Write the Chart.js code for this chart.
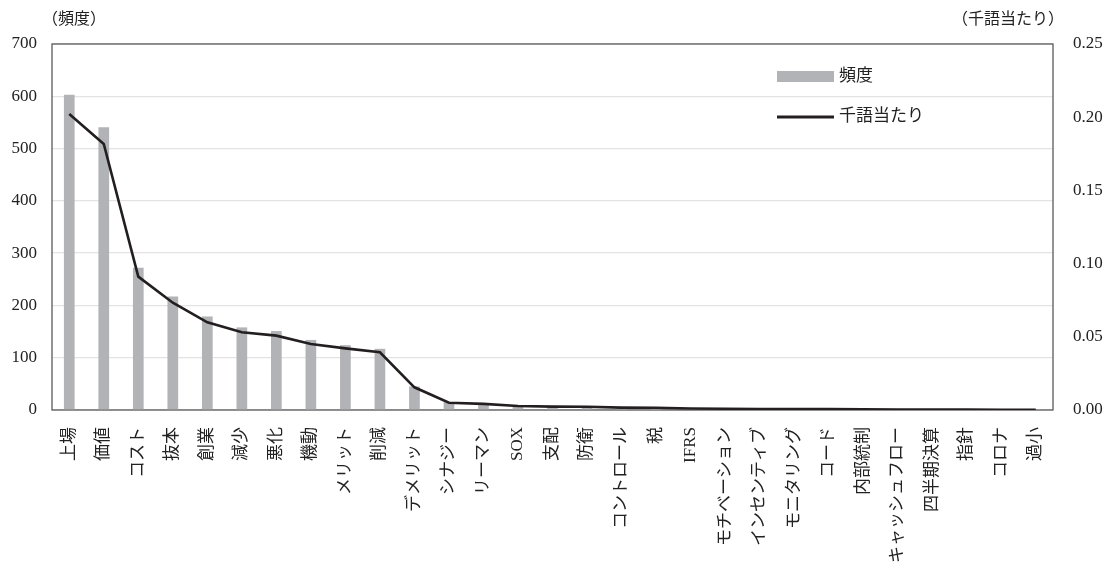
<!DOCTYPE html>
<html>
<head>
<meta charset="utf-8">
<script src="https://cdn.jsdelivr.net/npm/chart.js@4.4.1/dist/chart.umd.min.js"></script>
<style>
  html, body { margin: 0; padding: 0; background: #ffffff; }
  #wrap { width: 1108px; height: 574px; }
</style>
</head>
<body>
<div id="wrap"><canvas id="chart" width="1108" height="574"></canvas></div>
<script>
// Keywords, ordered by frequency
const categories = [
  '上場', '価値', 'コスト', '抜本', '創業', '減少', '悪化', '機動', 'メリット', '削減',
  'デメリット', 'シナジー', 'リーマン', 'SOX', '支配', '防衛', 'コントロール', '税', 'IFRS',
  'モチベーション', 'インセンティブ', 'モニタリング', 'コード', '内部統制', 'キャッシュフロー',
  '四半期決算', '指針', 'コロナ', '過小'
];

// Raw counts (left axis)
const frequency = [
  603, 541, 272, 217, 179, 158, 151, 134, 124, 117,
  45, 15, 12, 8, 7, 7, 5, 5, 3,
  3, 2, 2, 2, 1, 1,
  1, 1, 1, 1
];

// Occurrences per thousand words (right axis)
const perThousandWords = [
  0.2022, 0.1817, 0.0911, 0.0733, 0.0599, 0.0531, 0.0508, 0.0451, 0.0421, 0.0394,
  0.0155, 0.0050, 0.0042, 0.0027, 0.0023, 0.0022, 0.0016, 0.0015, 0.0010,
  0.0009, 0.0007, 0.0006, 0.0006, 0.0004, 0.0003,
  0.0003, 0.0003, 0.0002, 0.0002
];

// Axis ranges and steps
const leftAxisMax = 700;
const leftAxisStep = 100;
const rightAxisMax = 0.25;
const rightAxisStep = 0.05;

const leftTitle = '（頻度）';
const rightTitle = '（千語当たり）';
const seriesNames = ['頻度', '千語当たり'];

const FONT = '"Liberation Serif", "Noto Sans CJK JP", serif';
const BAR_COLOR = '#b2b3b7';
const LINE_COLOR = '#231f20';
const FRAME_COLOR = '#5a5a5a';
const GRID_COLOR = '#e3e3e3';

// Frame around the plot area, axis titles and an in-plot legend
const decor = {
  id: 'decor',
  beforeDatasetsDraw(chart) {
    const { ctx, chartArea: a } = chart;
    ctx.save();
    ctx.strokeStyle = FRAME_COLOR;
    ctx.lineWidth = 1.3;
    ctx.strokeRect(a.left, a.top, a.right - a.left, a.bottom - a.top);
    ctx.restore();
  },
  afterDraw(chart) {
    const { ctx, chartArea: a } = chart;
    ctx.save();
    ctx.fillStyle = '#222';
    ctx.font = '16px ' + FONT;
    ctx.textBaseline = 'middle';
    ctx.textAlign = 'left';
    ctx.fillText(leftTitle, a.left - 10, 20);
    ctx.textAlign = 'right';
    ctx.fillText(rightTitle, a.right + 11, 20);

    // legend: bar series first, then the line series
    const ds = chart.data.datasets;
    const barSet = ds.find(d => d.type === 'bar');
    const lineSet = ds.find(d => d.type === 'line');
    const lx = a.left + 725;
    ctx.textAlign = 'left';
    ctx.font = '17px ' + FONT;
    ctx.fillStyle = barSet.backgroundColor;
    ctx.fillRect(lx, 71, 57, 11);
    ctx.fillStyle = '#222';
    ctx.fillText(barSet.label, lx + 62, 77);
    ctx.strokeStyle = lineSet.borderColor;
    ctx.lineWidth = 3;
    ctx.beginPath();
    ctx.moveTo(lx, 117);
    ctx.lineTo(lx + 57, 117);
    ctx.stroke();
    ctx.fillText(lineSet.label, lx + 62, 117);
    ctx.restore();
  }
};

new Chart(document.getElementById('chart'), {
  data: {
    labels: categories,
    datasets: [
      {
        type: 'line',
        label: seriesNames[1],
        data: perThousandWords,
        yAxisID: 'yRight',
        borderColor: LINE_COLOR,
        backgroundColor: LINE_COLOR,
        borderWidth: 2.6,
        pointRadius: 0,
        tension: 0,
        order: 0
      },
      {
        type: 'bar',
        label: seriesNames[0],
        data: frequency,
        yAxisID: 'yLeft',
        backgroundColor: BAR_COLOR,
        borderWidth: 0,
        categoryPercentage: 1,
        barPercentage: 0.31,
        order: 1
      }
    ]
  },
  options: {
    responsive: false,
    animation: false,
    devicePixelRatio: 1,
    layout: { padding: { top: 44, left: 0, right: 0, bottom: 0 } },
    plugins: {
      legend: { display: false },
      tooltip: { enabled: false }
    },
    scales: {
      x: {
        grid: { display: false, drawTicks: false },
        border: { display: false },
        ticks: {
          autoSkip: false,
          minRotation: 90,
          maxRotation: 90,
          padding: 17,
          color: '#222',
          font: { family: FONT, size: 17 }
        },
        afterFit(scale) { scale.height = 164; }
      },
      yLeft: {
        position: 'left',
        min: 0,
        max: leftAxisMax,
        grid: { color: GRID_COLOR, lineWidth: 1.3, drawTicks: false },
        border: { display: false },
        ticks: {
          stepSize: leftAxisStep,
          padding: 15,
          color: '#222',
          font: { family: FONT, size: 17 }
        },
        afterFit(scale) { scale.width = 52; }
      },
      yRight: {
        position: 'right',
        min: 0,
        max: rightAxisMax,
        grid: { display: false, drawTicks: false },
        border: { display: false },
        ticks: {
          stepSize: rightAxisStep,
          padding: 20,
          color: '#222',
          font: { family: FONT, size: 17 },
          callback: (v) => Number(v).toFixed(2)
        },
        afterFit(scale) { scale.width = 55; }
      }
    }
  },
  plugins: [decor]
});
</script>
</body>
</html>
